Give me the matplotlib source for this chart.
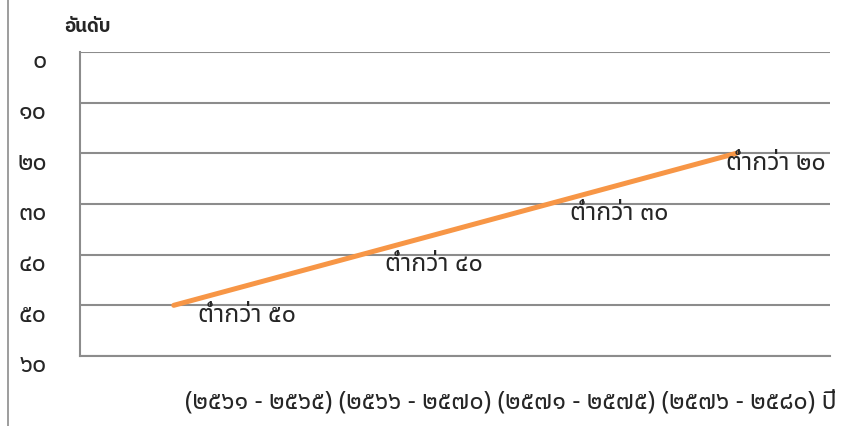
import matplotlib
matplotlib.use("Agg")
import matplotlib.pyplot as plt
import matplotlib.transforms as mtransforms
from matplotlib.lines import Line2D

plt.rcParams['font.family'] = ['Noto Sans Thai', 'DejaVu Sans']

# data
periods = ["(๒๕๖๑ - ๒๕๖๕)", "(๒๕๖๖ - ๒๕๗๐)", "(๒๕๗๑ - ๒๕๗๕)", "(๒๕๗๖ - ๒๕๘๐)"]
rank = [50, 40, 30, 20]
point_labels = ["ต่ำกว่า ๕๐", "ต่ำกว่า ๔๐", "ต่ำกว่า ๓๐", "ต่ำกว่า ๒๐"]
yticks = [0, 10, 20, 30, 40, 50, 60]
ytick_labels = ["๐", "๑๐", "๒๐", "๓๐", "๔๐", "๕๐", "๖๐"]
label_dx = [24, 24, 21, -10]  # pixel shift of the data labels

fig = plt.figure(figsize=(8.62, 4.27), dpi=100)
ax = fig.add_axes([80 / 862, 1 - 357 / 427, 750 / 862, 304 / 427])

grid_c = '#8c8c8c'
txt_c = '#262626'
fs = 18
x = list(range(len(periods)))
ax.plot(x, rank, color='#f79646', lw=3.6, solid_capstyle='round', zorder=3)

for i in x:
    ax.annotate(point_labels[i], (i, rank[i]), xytext=(label_dx[i], -9),
                textcoords='offset pixels', ha='left', va='center',
                fontsize=fs, color=txt_c, zorder=4)

ax.set_xlim(-0.5, len(periods) - 0.5)
ax.set_ylim(60, 0)
ax.set_yticks(yticks)
ax.set_yticklabels(ytick_labels, fontsize=fs, color=txt_c)
ax.set_xticks([])
ax.tick_params(axis='y', length=0, pad=24)
off = mtransforms.ScaledTranslation(0, -6 / 100, fig.dpi_scale_trans)
for lab in ax.get_yticklabels():
    lab.set_transform(lab.get_transform() + off)

ax.grid(axis='y', color=grid_c, lw=1.5)
for s in ['top', 'right']:
    ax.spines[s].set_visible(False)
for s in ['left', 'bottom']:
    ax.spines[s].set_color(grid_c)
    ax.spines[s].set_linewidth(1.5)

fig.text(64 / 862, 1 - 27 / 427, "อันดับ", fontsize=13.5, fontweight='bold',
         family=['IBM Plex Sans Thai', 'DejaVu Sans'], ha='left', va='center',
         color=txt_c)
fig.text(185 / 862, 1 - 402 / 427, " ".join(periods) + " ปี", fontsize=fs,
         ha='left', va='center', color=txt_c)

# outer frame line on the left
fig.add_artist(Line2D([8 / 862, 8 / 862], [0, 1], color='#8c8c8c', lw=1.2))

fig.savefig("out.png")
